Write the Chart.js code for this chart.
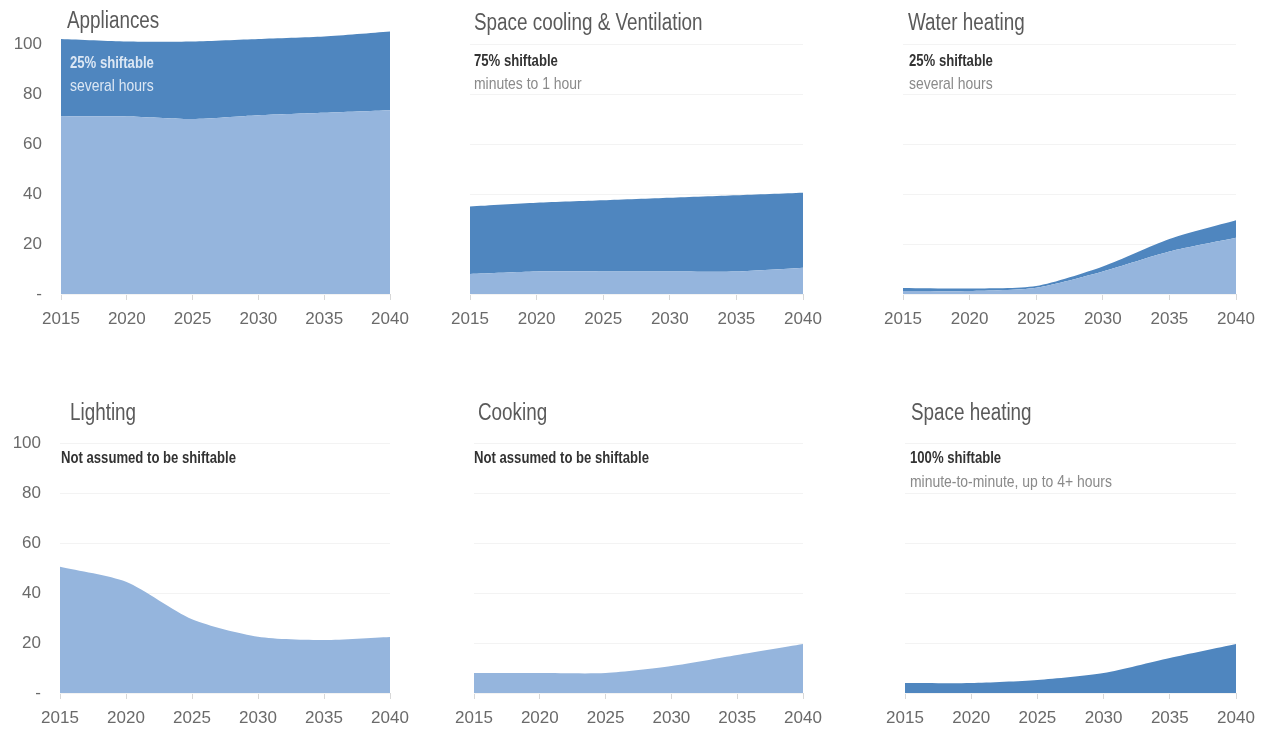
<!DOCTYPE html>
<html>
<head>
<meta charset="utf-8">
<script src="https://cdn.jsdelivr.net/npm/chart.js@4"></script>
<style>
  body { margin: 0; background: #fff; width: 1265px; height: 729px; position: relative; overflow: hidden;
         font-family: "Liberation Sans", Arial, sans-serif; }
  canvas { position: absolute; }
  .t { position: absolute; white-space: nowrap; line-height: 1; z-index: 2;
       transform: scaleX(0.82); transform-origin: 0 50%; }
  .title { font-size: 23px; color: #5a5a5a; }
  .b { font-size: 16px; font-weight: bold; color: #333; }
  .g { font-size: 17px; color: #8a8a8a; }
  .w { color: #dce7f4; }
</style>
</head>
<body>
<div class="t title" style="left:67px;top:9px">Appliances</div>
<div class="t b w" style="left:70px;top:55px">25% shiftable</div>
<div class="t g w" style="left:70px;top:77px">several hours</div>

<div class="t title" style="left:474px;top:11px">Space cooling &amp; Ventilation</div>
<div class="t b" style="left:474px;top:53px">75% shiftable</div>
<div class="t g" style="left:474px;top:75px">minutes to 1 hour</div>

<div class="t title" style="left:908px;top:11px">Water heating</div>
<div class="t b" style="left:909px;top:53px">25% shiftable</div>
<div class="t g" style="left:909px;top:75px">several hours</div>

<div class="t title" style="left:70px;top:401px">Lighting</div>
<div class="t b" style="left:61px;top:450px">Not assumed to be shiftable</div>

<div class="t title" style="left:478px;top:401px">Cooking</div>
<div class="t b" style="left:474px;top:450px">Not assumed to be shiftable</div>

<div class="t title" style="left:911px;top:401px">Space heating</div>
<div class="t b" style="left:910px;top:450px">100% shiftable</div>
<div class="t g" style="left:910px;top:473px">minute-to-minute, up to 4+ hours</div>

<canvas id="c1"></canvas>
<canvas id="c2"></canvas>
<canvas id="c3"></canvas>
<canvas id="c4"></canvas>
<canvas id="c5"></canvas>
<canvas id="c6"></canvas>

<script>
const years = ["2015", "2020", "2025", "2030", "2035", "2040"];
const yTicks = [0, 20, 40, 60, 80, 100];

// base (not shiftable) and shiftable part, stacked
const appliancesBase = [71, 71, 70, 71.5, 72.5, 73.5];
const appliancesShift = [31, 30, 31, 30.5, 30.5, 31.5];
const coolingBase = [8, 9, 9, 9, 9, 10.5];
const coolingShift = [27, 27.5, 28.5, 29.5, 30.5, 30];
const waterBase = [1.2, 1.2, 2.5, 9, 17, 22.5];
const waterShift = [1.2, 1, 0.7, 2, 5, 7];
const lighting = [50.5, 44.5, 29.5, 22.5, 21.2, 22.4];
const cooking = [8, 8, 8, 10.8, 15.2, 19.6];
const spaceHeating = [4, 4, 5.2, 8, 14, 19.6];

const lightBlue = "#95b5dd";
const darkBlue = "#4f86bf";
const tickFont = { family: "'Liberation Sans', Arial, sans-serif", size: 17 };

// left = x of the plot's left edge, top = y of the 110 line
const panels = [
  { id: "c1", left: 61, top: 19, ticks: true, area: 329, series: [[appliancesBase, lightBlue], [appliancesShift, darkBlue]] },
  { id: "c2", left: 470, top: 19, ticks: false, area: 333, series: [[coolingBase, lightBlue], [coolingShift, darkBlue]] },
  { id: "c3", left: 903, top: 19, ticks: false, area: 333, series: [[waterBase, lightBlue], [waterShift, darkBlue]] },
  { id: "c4", left: 60, top: 418, ticks: true, area: 330, series: [[lighting, lightBlue]] },
  { id: "c5", left: 474, top: 418, ticks: false, area: 329, series: [[cooking, lightBlue]] },
  { id: "c6", left: 905, top: 418, ticks: false, area: 331, series: [[spaceHeating, darkBlue]] },
];

const padTop = 35, padRight = 32, yWidth = 61, xHeight = 41, plotHeight = 275;

panels.forEach(p => {
  const cv = document.getElementById(p.id);
  const w = yWidth + p.area + padRight;
  const h = padTop + plotHeight + xHeight;
  cv.width = w; cv.height = h;
  cv.style.left = (p.left - yWidth) + "px"; cv.style.top = (p.top - padTop) + "px";
  cv.style.width = w + "px"; cv.style.height = h + "px";

  new Chart(cv, {
    type: "line",
    data: {
      labels: years,
      datasets: p.series.map((s, i) => ({
        data: s[0],
        backgroundColor: s[1],
        borderWidth: 0,
        pointRadius: 0,
        tension: 0.25,
        fill: i === 0 ? "origin" : "-1",
      })),
    },
    options: {
      responsive: false,
      animation: false,
      layout: { autoPadding: false, padding: { left: 0, right: padRight, top: padTop, bottom: 0 } },
      plugins: { legend: { display: false }, tooltip: { enabled: false } },
      scales: {
        x: {
          grid: { drawOnChartArea: false, color: "#d8d8d8", tickLength: 6 },
          border: { display: false },
          ticks: { color: "#6a6a6a", padding: 9, maxRotation: 0, autoSkip: false, font: tickFont },
          afterFit: s => { s.height = xHeight; },
        },
        y: {
          stacked: true,
          min: 0, max: 110,
          afterBuildTicks: s => { s.ticks = yTicks.map(v => ({ value: v })); },
          grid: { color: "#f3f3f3", drawTicks: false },
          border: { display: false },
          ticks: {
            display: p.ticks,
            color: "#6a6a6a",
            padding: 19,
            font: tickFont,
            callback: v => (v === 0 ? "-" : v),
          },
          afterFit: s => { s.width = yWidth; },
        },
      },
    },
  });
});
</script>
</body>
</html>
